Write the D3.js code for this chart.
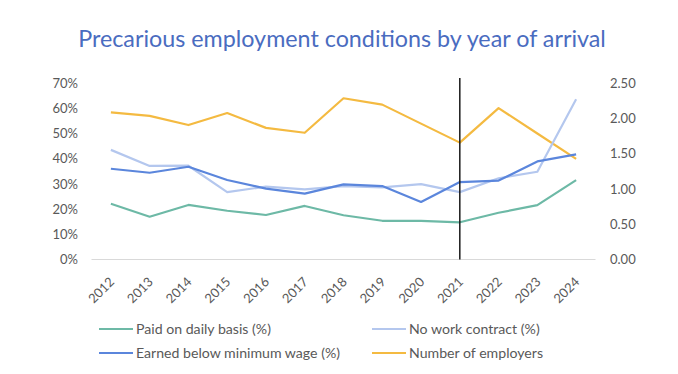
<!DOCTYPE html>
<html>
<head>
<meta charset="utf-8">
<script src="https://cdn.jsdelivr.net/npm/d3@7"></script>
<style>
  body { margin: 0; background: #fff; font-family: Lato, "Open Sans", sans-serif; }
</style>
</head>
<body>
<div id="chart"></div>
<script>
const years = ["2012","2013","2014","2015","2016","2017","2018","2019","2020","2021","2022","2023","2024"];
const paidDaily = [22.2, 17.0, 21.7, 19.4, 17.7, 21.3, 17.6, 15.4, 15.4, 14.8, 18.6, 21.6, 31.6];
const noContract = [43.6, 37.2, 37.3, 26.8, 29.0, 27.9, 29.2, 28.7, 30.0, 26.8, 32.3, 34.9, 63.7];
const belowMinWage = [36.1, 34.5, 36.9, 31.6, 28.2, 26.2, 29.9, 29.2, 22.9, 30.8, 31.4, 39.0, 41.8];
const employers = [2.09, 2.04, 1.91, 2.08, 1.87, 1.80, 2.29, 2.20, 1.93, 1.66, 2.15, 1.79, 1.43];
const leftTicks = [0, 10, 20, 30, 40, 50, 60, 70];
const rightTicks = [0, 0.5, 1.0, 1.5, 2.0, 2.5];
const markerYear = "2021";

const W = 678, H = 374;
const plot = { left: 91.5, right: 595.5, top: 83.5, bottom: 259.5 };
const tickColor = "#595959";

const svg = d3.select("#chart").append("svg")
    .attr("width", W).attr("height", H);

const x = d3.scaleBand().domain(years).range([plot.left, plot.right]);
const xc = d => x(d) + x.bandwidth() / 2;
const yL = d3.scaleLinear().domain([0, 70]).range([plot.bottom, plot.top]);
const yR = d3.scaleLinear().domain([0, 2.5]).range([plot.bottom, plot.top]);

// title, scaled to the reference width
const title = svg.append("text")
    .attr("x", 342).attr("y", 47)
    .attr("text-anchor", "middle")
    .attr("fill", "#4A6CC0")
    .style("font-family", "Lato, sans-serif")
    .style("font-size", "26px")
    .text("Precarious employment conditions by year of arrival");
const tw = title.node().getComputedTextLength();
title.style("font-size", (26 * 528 / tw) + "px");

// baseline
svg.append("line")
    .attr("x1", plot.left).attr("x2", plot.right)
    .attr("y1", plot.bottom).attr("y2", plot.bottom)
    .attr("stroke", "#d9d9d9").attr("stroke-width", 1);

// left axis labels
svg.append("g").selectAll("text").data(leftTicks).join("text")
    .attr("x", 78).attr("y", d => yL(d))
    .attr("dy", "0.35em")
    .attr("text-anchor", "end")
    .attr("fill", tickColor)
    .style("font-size", "13px")
    .text(d => d + "%");

// right axis labels
svg.append("g").selectAll("text").data(rightTicks).join("text")
    .attr("x", 610).attr("y", d => yR(d))
    .attr("dy", "0.35em")
    .attr("fill", tickColor)
    .style("font-size", "13px")
    .text(d => d3.format(".2f")(d));

// x labels
svg.append("g").selectAll("text").data(years).join("text")
    .attr("transform", d => `translate(${xc(d) + 1},${plot.bottom + 20}) rotate(-45)`)
    .attr("text-anchor", "end")
    .attr("dy", "0.35em")
    .attr("fill", tickColor)
    .style("font-size", "13px")
    .text(d => d);

const series = [
    { name: "Paid on daily basis (%)", values: paidDaily, color: "#6DB9A6", y: yL },
    { name: "No work contract (%)", values: noContract, color: "#B4C7EE", y: yL },
    { name: "Earned below minimum wage (%)", values: belowMinWage, color: "#5B86DC", y: yL },
    { name: "Number of employers", values: employers, color: "#F4BA41", y: yR }
];

const drawOrder = [3, 0, 1, 2];
drawOrder.forEach(i => {
    const s = series[i];
    const line = d3.line()
        .x((d, j) => xc(years[j]))
        .y(d => s.y(d));
    svg.append("path")
        .datum(s.values)
        .attr("fill", "none")
        .attr("stroke", s.color)
        .attr("stroke-width", 2.2)
        .attr("stroke-linejoin", "round")
        .attr("d", line);
});

// vertical marker
svg.append("line")
    .attr("x1", xc(markerYear)).attr("x2", xc(markerYear))
    .attr("y1", 78).attr("y2", plot.bottom)
    .attr("stroke", "#1a1a1a").attr("stroke-width", 1.5);

// legend
const legendPos = [
    { lx: 99, ty: 329 }, { lx: 372, ty: 329 },
    { lx: 99, ty: 353 }, { lx: 372, ty: 353 }
];
const lg = svg.append("g").selectAll("g").data(series).join("g")
    .attr("transform", (d, i) => `translate(${legendPos[i].lx},${legendPos[i].ty})`);
lg.append("line")
    .attr("x1", 0).attr("x2", 34).attr("y1", 0).attr("y2", 0)
    .attr("stroke", d => d.color).attr("stroke-width", 2.2);
const lt = lg.append("text")
    .attr("x", 37).attr("dy", "0.35em")
    .attr("fill", tickColor)
    .style("font-size", "14px")
    .text(d => d.name);
const lw = lt.nodes()[0].getComputedTextLength();
lt.style("font-size", (14 * 135 / lw) + "px");
</script>
</body>
</html>
